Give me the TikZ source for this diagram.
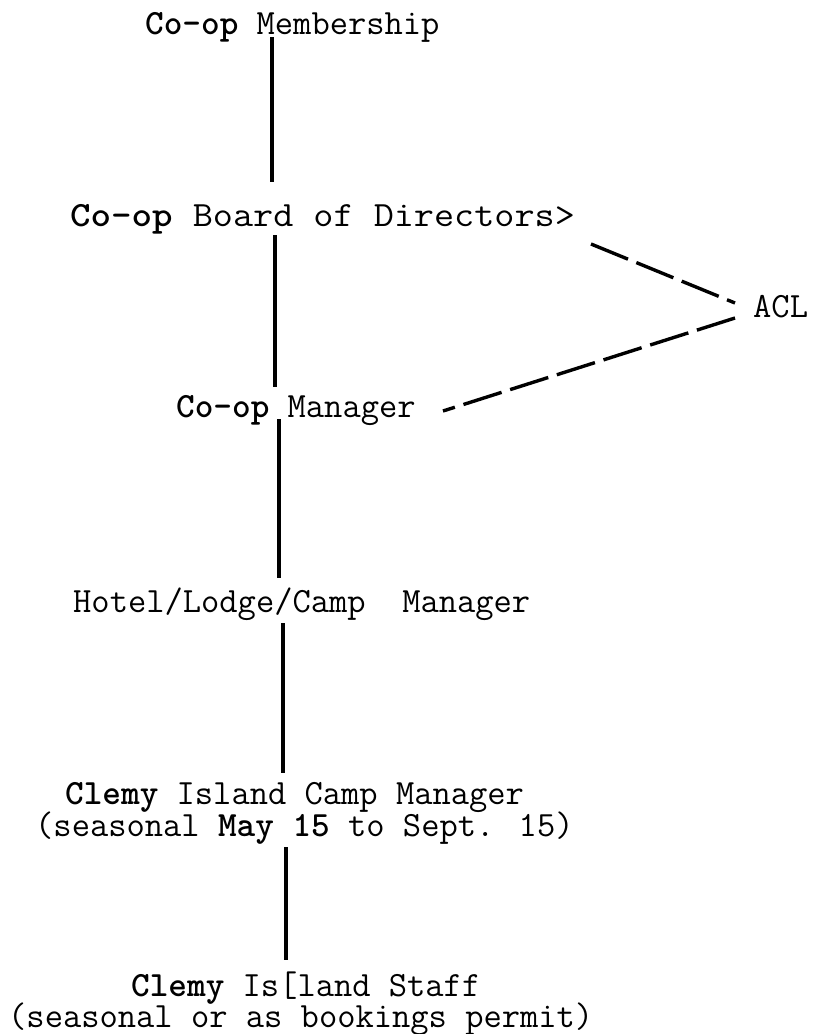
\documentclass[tikz,border=0pt]{standalone}
\usepackage{fontspec}
\usepackage{graphicx}
\tikzset{
  lbl/.style={anchor=base west, inner sep=0pt, font=\ttfamily\fontsize{35.5}{40}\selectfont},
  solidline/.style={line width=3.2pt},
  dashline/.style={line width=3.4pt, dash pattern=on 40pt off 9pt}
}
\begin{document}
\begin{tikzpicture}[x=1pt,y=-1pt]
\useasboundingbox (0,0) rectangle (813,1034);
\node[lbl] (memb) at (145,34) {\textbf{Co-op} Membership};
\node[lbl] (board) at (70,226) {\scalebox{1.1}[1]{\textbf{Co-op} Board of Directors>}};
\node[lbl] (mgr) at (176,417) {\textbf{Co-op} Manager};
\node[lbl] (acl) at (753,317) {ACL};
\node[lbl] (hotel) at (73,612) {Hotel/Lodge/Camp\ \ Manager};
\node[lbl] (clemyA) at (65,804) {\textbf{Clemy} Island Camp Manager};
\node[lbl] (seasonA) at (35,836) {(seasonal \textbf{May 15} to Sept. 15)};
\node[lbl] (clemyB) at (131,996) {\textbf{Clemy} Is[land Staff};
\node[lbl] (seasonB) at (8,1027) {(seasonal or as bookings permit)};
% connector end points
\coordinate (a1) at (272,37);  \coordinate (b1) at (272,182);
\coordinate (a2) at (275,235); \coordinate (b2) at (275,387);
\coordinate (a3) at (279,419); \coordinate (b3) at (279,578);
\coordinate (a4) at (283,623); \coordinate (b4) at (283,773);
\coordinate (a5) at (286,847); \coordinate (b5) at (286,960);
\coordinate (d1a) at (591,244); \coordinate (d1b) at (735,303);
\coordinate (d2a) at (735,318); \coordinate (d2b) at (443,411);
\draw[solidline] (a1) -- (b1);
\draw[solidline] (a2) -- (b2);
\draw[solidline] (a3) -- (b3);
\draw[solidline] (a4) -- (b4);
\draw[solidline] (a5) -- (b5);
\draw[dashline] (d1a) -- (d1b);
\draw[dashline] (d2a) -- (d2b);
\end{tikzpicture}
\end{document}
